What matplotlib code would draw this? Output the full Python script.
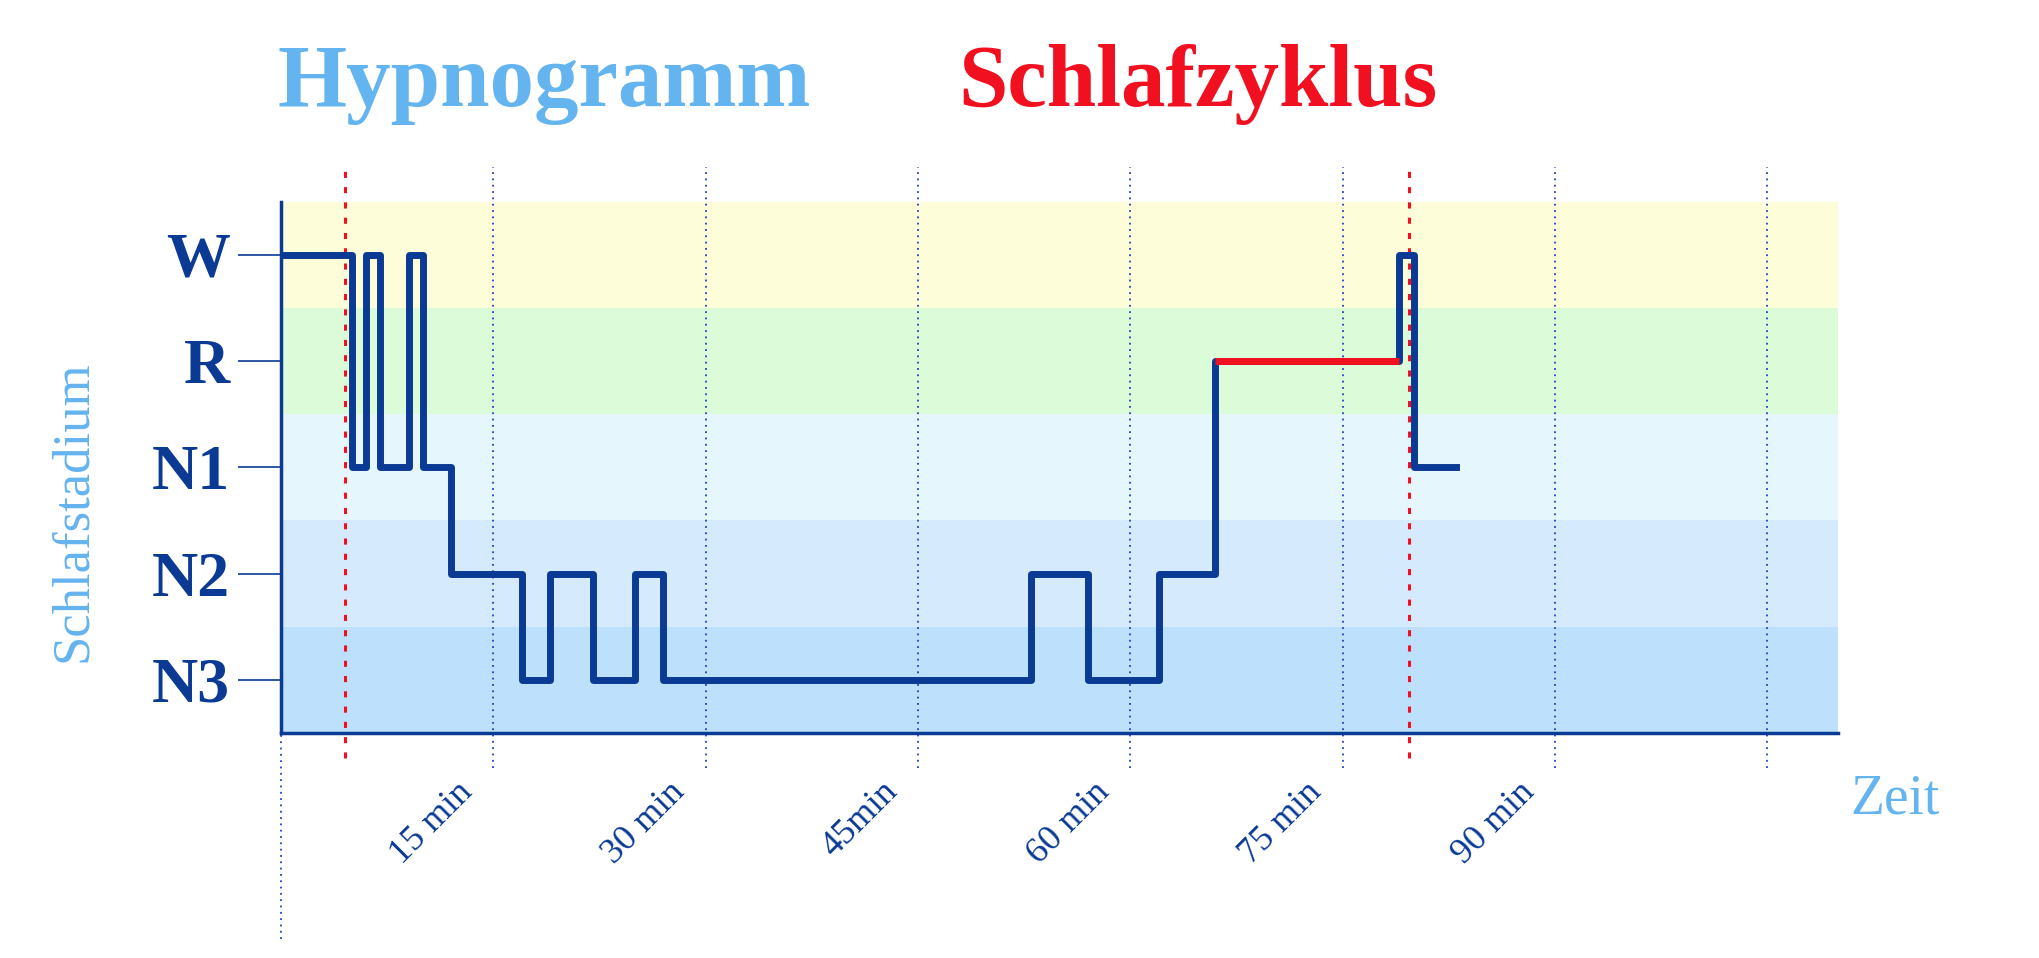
import matplotlib
matplotlib.use("Agg")
import matplotlib.pyplot as plt

# data
stage_names = ["N3", "N2", "N1", "R", "W"]
band_colors = ["#bde0fc", "#d5eafc", "#e5f6fd", "#dcfcd9", "#fdfdd9"]
# step times (min) and stage index (0=N3 .. 4=W)
times = [0, 5, 6, 7, 9, 10, 12, 17, 19, 22, 25, 27, 53, 57, 62, 66, 79, 80, 83]
stages = [4, 2, 4, 2, 4, 2, 1, 0, 1, 0, 1, 0, 1, 0, 1, 3, 4, 2, 2]
rem_start, rem_end = 66, 79
cycle_marks = [4.5, 79.7]
grid_minutes = [15, 30, 45, 60, 75, 90, 105]
tick_labels = ["15 min", "30 min", "45min", "60 min", "75 min", "90 min"]

navy = "#0a3a94"
light = "#64b4f0"
serif = "Liberation Serif"

fig = plt.figure(figsize=(20.4, 9.58), dpi=100)
ax = fig.add_axes([0.1378, 0.235, 0.7633, 0.5544])
ax.set_xlim(0, 110)
ax.set_ylim(-0.5, 4.5)

for i, c in enumerate(band_colors):
    ax.axhspan(i - 0.5, i + 0.5, color=c, lw=0, zorder=0)

# grid lines
for m in grid_minutes:
    ax.plot([m, m], [-0.83, 4.83], ls=(0, (1, 2.5)), color="#2040c0", lw=1.3, clip_on=False, zorder=1)
ax.plot([0, 0], [-2.44, -0.5], ls=(0, (1, 2.5)), color="#2040c0", lw=1.3, clip_on=False, zorder=1)
for m in cycle_marks:
    ax.plot([m, m], [-0.74, 4.83], ls=(0, (2, 3)), color="#f01020", lw=2.2, clip_on=False, zorder=2)

# hypnogram
ax.step(times, stages, where="post", color=navy, lw=5, zorder=3)
ax.plot([rem_start, rem_end], [3, 3], color="#f01020", lw=5, zorder=4, solid_capstyle="butt")

for s in ["top", "right"]:
    ax.spines[s].set_visible(False)
for s in ["left", "bottom"]:
    ax.spines[s].set_color(navy)
    ax.spines[s].set_linewidth(2.5)

ax.set_yticks(range(5))
ax.set_yticklabels(stage_names, fontfamily=serif, fontweight="bold", fontsize=46, color=navy)
ax.tick_params(axis="y", length=31, width=1.2, color=navy, pad=6)
ax.set_xticks([])

for m, lab in zip(grid_minutes, tick_labels):
    ax.text(m - 1, -0.9, lab, rotation=45, ha="right", va="top", fontfamily=serif,
            fontsize=26, color=navy, clip_on=False)

ax.text(114, -1.13, "Zeit", ha="center", va="center", fontfamily=serif, fontsize=40, color=light)
fig.text(0.036, 0.466, "Schlafstadium", rotation=90, ha="center", va="center",
         fontfamily=serif, fontsize=38, color=light)
fig.text(0.267, 0.912, "Hypnogramm", ha="center", va="center", fontfamily=serif,
         fontweight="bold", fontsize=64, color=light)
fig.text(0.587, 0.912, "Schlafzyklus", ha="center", va="center", fontfamily=serif,
         fontweight="bold", fontsize=64, color="#f01020")

fig.savefig("out.png", dpi=100)
